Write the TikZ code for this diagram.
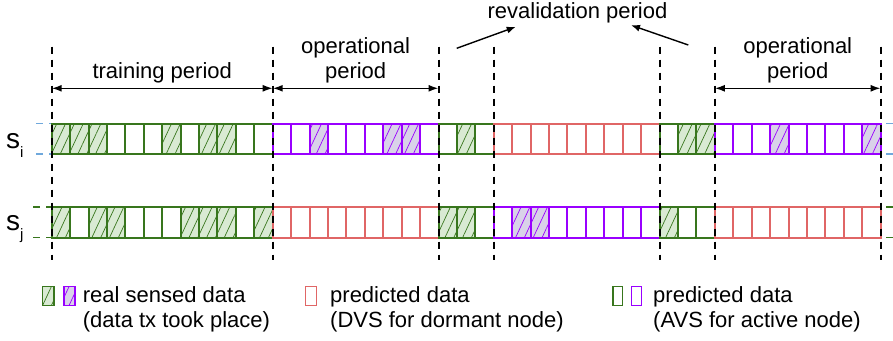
\documentclass[tikz,border=0pt]{standalone}
\usepackage{fontspec}
\setmainfont{Liberation Sans}
\usetikzlibrary{arrows.meta,patterns.meta}

\definecolor{gdark}{HTML}{38761D}
\definecolor{gfill}{HTML}{D9EAD3}
\definecolor{pdark}{HTML}{9900FF}
\definecolor{pfill}{HTML}{D9D2E9}
\definecolor{rdark}{HTML}{E06666}
\definecolor{bdark}{HTML}{6FA8DC}

\tikzset{
  txt/.style={font=\fontsize{22}{25}\selectfont, inner sep=0pt},
  sname/.style={font=\fontsize{28}{28}\selectfont, inner sep=0pt, anchor=base west},
  cellgn/.style={draw=gdark, fill=white, line width=2pt},
  cellgh/.style={draw=gdark, line width=2pt, preaction={fill=gfill},
    pattern={Lines[angle=65,distance=8pt,line width=0.7pt]}, pattern color=gdark},
  cellpn/.style={draw=pdark, fill=white, line width=2pt},
  cellph/.style={draw=pdark, line width=2pt, preaction={fill=pfill},
    pattern={Lines[angle=65,distance=8pt,line width=0.7pt]}, pattern color=pdark},
  cellrn/.style={draw=rdark, fill=white, line width=2pt},
  guide/.style={dash pattern=on 7pt off 6pt, line width=1.6pt},
  vline/.style={dash pattern=on 7pt off 6pt, line width=2pt},
  periodarrow/.style={{Latex[length=10pt,width=7pt]}-{Latex[length=10pt,width=7pt]}, line width=1.6pt},
  revarrow/.style={-{Latex[length=9pt,width=7pt]}, line width=1.4pt}
}

% one row of slots: #1 = top, #2 = kinds
\newcommand{\cellrow}[2]{%
  \foreach \c [count=\n from 0] in {#2}
    \draw[cell\c] ({51.7+\n*18.42},#1) rectangle ++(18.42,30.5);
}

\begin{document}
\begin{tikzpicture}[x=1pt,y=-1pt]
  \useasboundingbox (0,0) rectangle (893,340);

  % row guides
  \foreach \y in {123.5,154} {
    \draw[guide, bdark] (36,\y) -- (51.7,\y);
    \draw[guide, bdark] (886,\y) -- (893,\y);
  }
  \foreach \y in {207,237.5} {
    \draw[guide, gdark] (33,\y) -- (51.7,\y);
    \draw[guide, gdark] (886,\y) -- (893,\y);
  }

  \node[sname] (si) at (5.8,148.3) {s\raisebox{-9pt}{\fontsize{15}{15}\selectfont i}};
  \node[sname] (sj) at (5.8,230.5) {s\raisebox{-9pt}{\fontsize{15}{15}\selectfont j}};

  \cellrow{123.5}{gh,gh,gh,gn,gn,gn,gh,gn,gh,gh,gn,gn,
    pn,pn,ph,pn,pn,pn,ph,ph,pn, gn,gh,gn,
    rn,rn,rn,rn,rn,rn,rn,rn,rn, gn,gh,gh,
    pn,pn,pn,ph,pn,pn,pn,pn,ph}
  \cellrow{207}{gh,gn,gh,gh,gn,gn,gn,gh,gh,gh,gn,gh,
    rn,rn,rn,rn,rn,rn,rn,rn,rn, gh,gh,gn,
    pn,ph,ph,pn,pn,pn,pn,pn,pn, gh,gn,gn,
    rn,rn,rn,rn,rn,rn,rn,rn,rn}

  % period borders
  \foreach \k [count=\i from 0] in {0,12,21,24,33,36,45} {
    \draw[vline] ({51.7+\k*18.42},46.7) -- ({51.7+\k*18.42},260);
    \coordinate (b\i) at ({51.7+\k*18.42},88.3);
  }

  \draw[periodarrow] (b0) -- (b1) node[txt, midway, above=4.5pt] (train) {training period};
  \draw[periodarrow] (b1) -- (b2) node[txt, midway, above=4.5pt, align=center] (op1) {operational\\period};
  \draw[periodarrow] (b5) -- (b6) node[txt, midway, above=4.5pt, align=center] (op2) {operational\\period};

  \node[txt, anchor=base] (reval) at (577.5,18.3) {revalidation period};
  \coordinate (ra) at (456.7,48.3);
  \coordinate (rb) at (688.3,45);
  \draw[revarrow] (ra) -- ([xshift=28.3pt,yshift=-3.8pt]reval.south west);
  \draw[revarrow] (rb) -- ([xshift=-36.6pt,yshift=-2.1pt]reval.south east);

  % legend
  \draw[cellgh, line width=1.5pt] (42.7,286.7) rectangle (54,305.3);
  \draw[cellph, line width=1.5pt] (64,286.7) rectangle (75,305.3);
  \node[txt, anchor=north west, align=left] (leg1) at (82.7,286) {real sensed data\\(data tx took place)};
  \draw[cellrn, line width=1.5pt] (305.5,286.7) rectangle (316.5,305.3);
  \node[txt, anchor=north west, align=left] (leg2) at (330,286) {predicted data\\(DVS for dormant node)};
  \draw[cellgn, line width=1.5pt] (613,286.7) rectangle (622.3,305.3);
  \draw[cellpn, line width=1.5pt] (631.3,286.7) rectangle (641.3,305.3);
  \node[txt, anchor=north west, align=left] (leg3) at (653,286) {predicted data\\(AVS for active node)};
\end{tikzpicture}
\end{document}
